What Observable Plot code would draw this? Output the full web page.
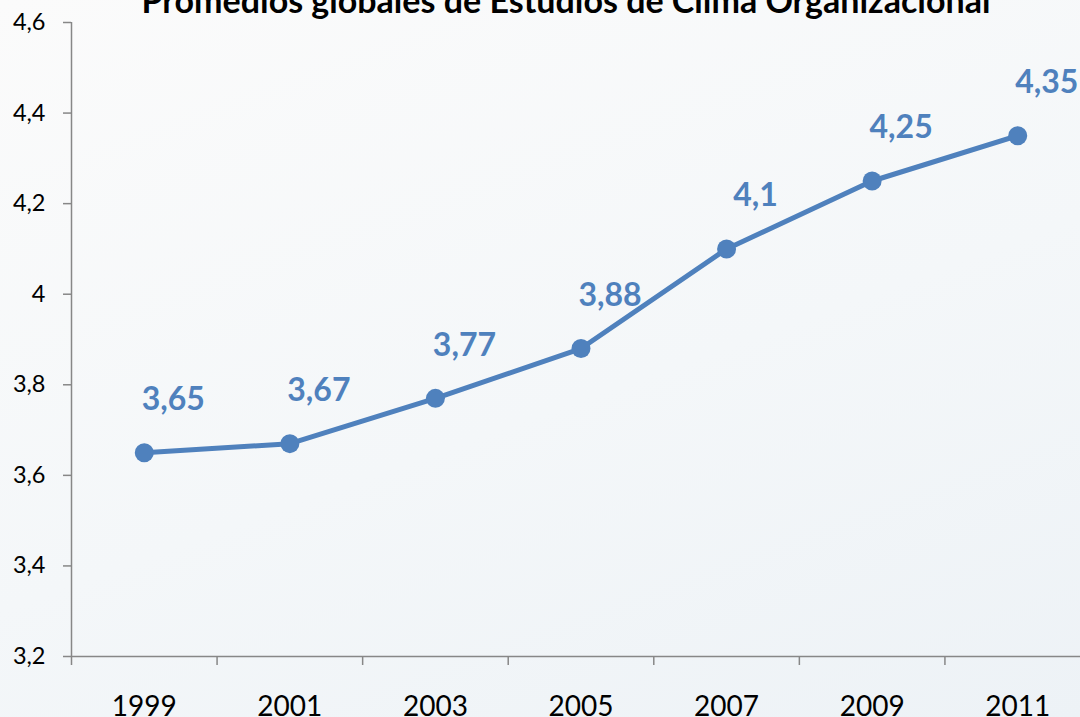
<!DOCTYPE html>
<html>
<head>
<meta charset="utf-8">
<script src="https://cdn.jsdelivr.net/npm/d3@7"></script>
<script src="https://cdn.jsdelivr.net/npm/@observablehq/plot@0.6"></script>
<style>
  html, body { margin: 0; padding: 0; overflow: hidden; }
  body { width: 1080px; height: 717px; background: linear-gradient(160deg, #fbfbfb 0%, #f4f7f9 55%, #edf2f6 100%); }
</style>
</head>
<body>
<div id="chart"></div>
<script>
const title = "Promedios globales de Estudios de Clima Organizacional";
const years = [1999, 2001, 2003, 2005, 2007, 2009, 2011];
const values = [3.65, 3.67, 3.77, 3.88, 4.1, 4.25, 4.35];
const valueLabels = ["3,65", "3,67", "3,77", "3,88", "4,1", "4,25", "4,35"];
const yTicks = [3.2, 3.4, 3.6, 3.8, 4.0, 4.2, 4.4, 4.6];
const yTickLabels = ["3,2", "3,4", "3,6", "3,8", "4", "4,2", "4,4", "4,6"];

const data = years.map((y, i) => ({year: y, value: values[i], label: valueLabels[i]}));
const boundaries = d3.range(years[0] - 1, years[years.length - 1] + 2, 2);
const blue = "#4f81bd";
const axisGray = "#878787";

const chart = Plot.plot({
  width: 1080,
  height: 717,
  marginTop: 22,
  marginBottom: 61,
  marginLeft: 71,
  marginRight: 0,
  style: {background: "transparent", fontFamily: "Lato, 'Open Sans', sans-serif", color: "#000", overflow: "hidden"},
  x: {domain: [boundaries[0], boundaries[boundaries.length - 1]], range: [71, 1090]},
  y: {domain: [3.2, 4.6], range: [656, 22]},
  marks: [
    Plot.ruleY([3.2], {stroke: axisGray, strokeWidth: 1.5}),
    Plot.ruleX([boundaries[0]], {y1: 3.2, y2: 4.6, stroke: axisGray, strokeWidth: 1.5}),
    Plot.axisX(boundaries, {tickSize: 9, tickFormat: () => "", stroke: axisGray, strokeWidth: 1.5, label: null}),
    Plot.axisX(years, {tickSize: 0, tickPadding: 40, tickFormat: d => String(d), fontSize: 28, fill: "#000", label: null}),
    Plot.axisY(yTicks, {tickSize: 8, tickFormat: () => "", stroke: axisGray, strokeWidth: 1.5, label: null}),
    Plot.axisY(yTicks, {tickSize: 0, tickPadding: 26, tickFormat: (d, i) => yTickLabels[i], fontSize: 23.5, fill: "#000", label: null}),
    Plot.line(data, {x: "year", y: "value", stroke: blue, strokeWidth: 5}),
    Plot.dot(data, {x: "year", y: "value", r: 9.5, fill: blue, stroke: "none"}),
    Plot.text(data, {x: "year", y: "value", text: "label", dx: 29, dy: -53, fill: blue, fontSize: 32, fontWeight: "bold"}),
    Plot.text([title], {frameAnchor: "top", dx: -10, dy: -10, lineAnchor: "bottom", fontSize: 34, fontWeight: "bold", fill: "#000"})
  ]
});
document.getElementById("chart").appendChild(chart);
</script>
</body>
</html>
